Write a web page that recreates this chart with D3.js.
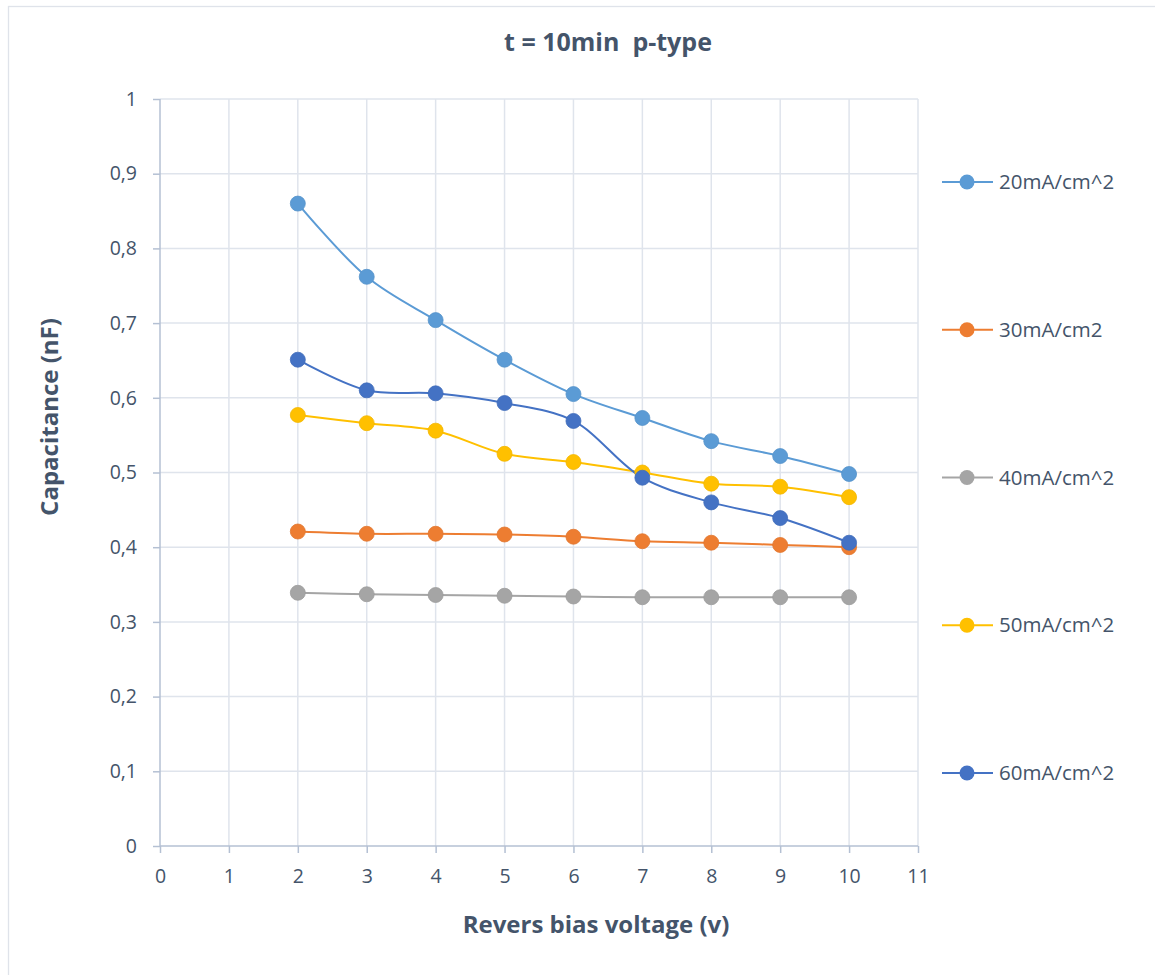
<!DOCTYPE html>
<html><head><meta charset="utf-8">
<script src="https://cdn.jsdelivr.net/npm/d3@7"></script>
<style>body{margin:0;background:#fff}svg{display:block}</style>
</head><body>
<svg id="c" width="1155" height="975"></svg>
<script>
const voltages = [2,3,4,5,6,7,8,9,10];
const s20 = [0.86,0.762,0.704,0.651,0.605,0.573,0.542,0.522,0.498];
const s30 = [0.421,0.418,0.418,0.417,0.414,0.408,0.406,0.403,0.400];
const s40 = [0.339,0.337,0.336,0.335,0.334,0.333,0.333,0.333,0.333];
const s50 = [0.577,0.566,0.556,0.525,0.514,0.500,0.485,0.481,0.467];
const s60 = [0.651,0.610,0.606,0.593,0.569,0.493,0.460,0.439,0.406];
const seriesNames = ["20mA/cm^2","30mA/cm2","40mA/cm^2","50mA/cm^2","60mA/cm^2"];
const seriesColors = ["#5b9bd5","#ed7d31","#a5a5a5","#ffc000","#4472c4"];
const xTicks = [0,1,2,3,4,5,6,7,8,9,10,11];
const yTicks = [0,0.1,0.2,0.3,0.4,0.5,0.6,0.7,0.8,0.9,1];
const title = "t = 10min  p-type";
const xTitle = "Revers bias voltage (v)";
const yTitle = "Capacitance (nF)";

const allSeries = [s20,s30,s40,s50,s60];
const svg = d3.select("#c");
const font = "'Open Sans', 'Noto Sans', sans-serif";
const textCol = "#44546a";

svg.append("rect").attr("x",8.5).attr("y",6.5).attr("width",1160).attr("height",980)
  .attr("fill","#fff").attr("stroke","#dfe3ea").attr("stroke-width",1.3);

const L=160, R=918, T=99, B=846;
const x = d3.scaleLinear().domain([0,11]).range([L,R]);
const y = d3.scaleLinear().domain([0,1]).range([B,T]);

// gridlines
const g = svg.append("g");
g.selectAll(".gy").data(yTicks.slice(1)).enter().append("line")
  .attr("x1",L).attr("x2",R).attr("y1",d=>y(d)).attr("y2",d=>y(d))
  .attr("stroke","#dfe4ec").attr("stroke-width",1.5);
g.selectAll(".gx").data(xTicks.slice(1)).enter().append("line")
  .attr("x1",d=>x(d)).attr("x2",d=>x(d)).attr("y1",T).attr("y2",B)
  .attr("stroke","#dfe4ec").attr("stroke-width",1.5);

// axes
const xAxis = d3.axisBottom(x).tickValues(xTicks).tickSize(7).tickPadding(16).tickFormat(d=>d);
const yAxis = d3.axisLeft(y).tickValues(yTicks).tickSize(7).tickPadding(16)
  .tickFormat(d=>d===0?"0":d===1?"1":d3.format(".1f")(d).replace(".",","));
const gx = svg.append("g").attr("transform",`translate(0,${B})`).call(xAxis);
const gy = svg.append("g").attr("transform",`translate(${L},0)`).call(yAxis);
[gx,gy].forEach(a=>{
  a.select(".domain").attr("stroke","#b4c0d3").attr("stroke-width",1.5);
  a.selectAll(".tick line").attr("stroke","#b4c0d3").attr("stroke-width",1.5);
  a.selectAll(".tick text").attr("fill",textCol).attr("font-family",font).attr("font-size",19.5);
});
gx.select(".domain").attr("d",`M${L},0H${R}`);
gy.select(".domain").attr("d",`M0,${B}V${T}`);

// series
const line = d3.line().x((d,i)=>x(voltages[i])).y(d=>y(d)).curve(d3.curveCatmullRom.alpha(0.5));
allSeries.forEach((s,k)=>{
  svg.append("path").datum(s).attr("d",line).attr("fill","none")
    .attr("stroke",seriesColors[k]).attr("stroke-width",2);
});
allSeries.forEach((s,k)=>{
  svg.append("g").selectAll("circle").data(s).enter().append("circle")
    .attr("cx",(d,i)=>x(voltages[i])).attr("cy",d=>y(d)).attr("r",7.5)
    .attr("fill",seriesColors[k]).attr("stroke",d3.color(seriesColors[k]).darker(0.15)).attr("stroke-width",0.8);
});

// legend
const legY = d3.scalePoint().domain(seriesNames).range([182,773]);
seriesNames.forEach((n,k)=>{
  const yy = legY(n);
  svg.append("line").attr("x1",942).attr("x2",993).attr("y1",yy).attr("y2",yy)
    .attr("stroke",seriesColors[k]).attr("stroke-width",2);
  svg.append("circle").attr("cx",967).attr("cy",yy).attr("r",7.5).attr("fill",seriesColors[k]);
  svg.append("text").attr("x",999).attr("y",yy).attr("dy","0.35em").text(n)
    .attr("fill",textCol).attr("font-family",font).attr("font-size",20.5);
});

// titles
svg.append("text").attr("x",608).attr("y",42).attr("dy","0.35em").attr("text-anchor","middle")
  .text(title).attr("fill",textCol).attr("font-family",font).attr("font-size",25).attr("font-weight","bold")
  .style("white-space","pre");
svg.append("text").attr("x",596).attr("y",925).attr("dy","0.35em").attr("text-anchor","middle")
  .text(xTitle).attr("fill",textCol).attr("font-family",font).attr("font-size",24).attr("font-weight","bold");
svg.append("text").attr("transform","translate(50,417) rotate(-90)").attr("dy","0.35em").attr("text-anchor","middle")
  .text(yTitle).attr("fill",textCol).attr("font-family",font).attr("font-size",24).attr("font-weight","bold");
</script>
</body></html>
